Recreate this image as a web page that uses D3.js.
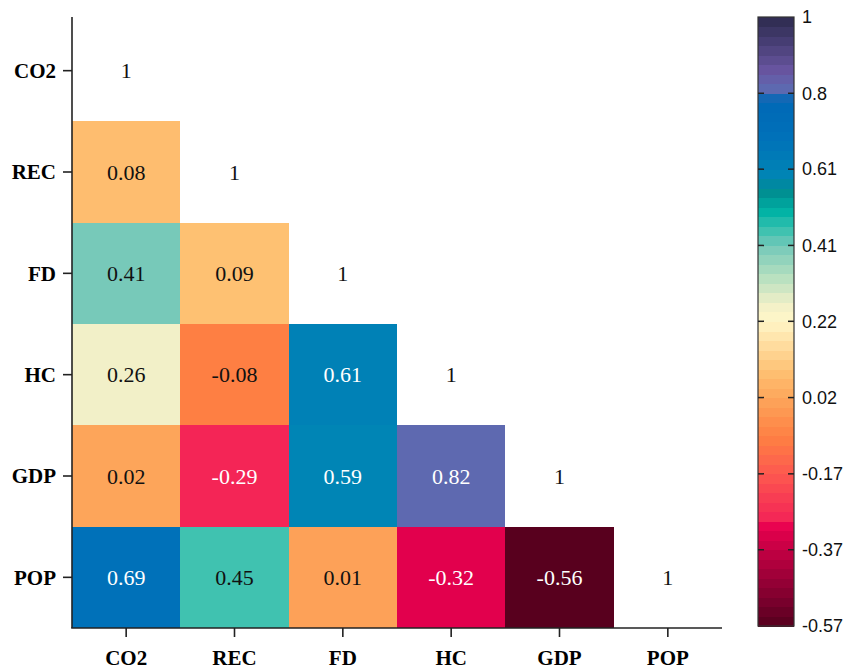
<!DOCTYPE html>
<html>
<head>
<meta charset="utf-8">
<script src="https://cdn.jsdelivr.net/npm/d3@7"></script>
<style>
  html, body { margin: 0; padding: 0; background: #fff; }
  svg { display: block; }
</style>
</head>
<body>
<svg id="chart" width="844" height="671"></svg>
<script>
// Variables of the correlation matrix (rows top to bottom, columns left to right)
const variables = ["CO2", "REC", "FD", "HC", "GDP", "POP"];

// Lower-triangle correlation coefficients, one array per row
const rowCO2 = [1];
const rowREC = [0.08, 1];
const rowFD  = [0.41, 0.09, 1];
const rowHC  = [0.26, -0.08, 0.61, 1];
const rowGDP = [0.02, -0.29, 0.59, 0.82, 1];
const rowPOP = [0.69, 0.45, 0.01, -0.32, -0.56, 1];
const rows = [rowCO2, rowREC, rowFD, rowHC, rowGDP, rowPOP];

// Colour ramp anchors (value -> colour)
const rampValues = [-0.565, -0.5, -0.37, -0.31, -0.29, -0.17, -0.08, 0.02, 0.09, 0.22, 0.26, 0.33, 0.41, 0.45, 0.5, 0.555, 0.59, 0.69, 0.79, 0.8, 0.82, 0.86, 0.93, 1];
const rampColors = ["#55001d", "#7a002d", "#c30043", "#e8004f", "#f42556", "#fd5a4f", "#fe7f43", "#fda55a", "#fec172", "#fff6c8", "#f2f0c8", "#b8e0c0", "#77c9b9", "#40c2b0", "#00b3a5", "#008a8f", "#0085b5", "#0071b9", "#0068b6", "#5868b2", "#5e69b0", "#6a56a2", "#4a4078", "#2d2a4e"];

// Colour bar ticks
const barTickValues = [-0.565, -0.369, -0.174, 0.022, 0.218, 0.413, 0.609, 0.804, 1];
const barTickLabels = ["-0.57", "-0.37", "-0.17", "0.02", "0.22", "0.41", "0.61", "0.8", "1"];
const barSteps = 64;

const svg = d3.select("#chart");

const plot = { left: 72, right: 722, top: 20, bottom: 628, axisTop: 17 };

const x = d3.scaleBand().domain(variables).range([plot.left, plot.right]);
const y = d3.scaleBand().domain(variables).range([plot.top, plot.bottom]);

const color = d3.scaleLinear().domain(rampValues).range(rampColors).interpolate(d3.interpolateRgb).clamp(true);

function luminance(c) {
  const rgb = d3.rgb(c);
  const f = v => { v /= 255; return v <= 0.03928 ? v / 12.92 : Math.pow((v + 0.055) / 1.055, 2.4); };
  return 0.2126 * f(rgb.r) + 0.7152 * f(rgb.g) + 0.0722 * f(rgb.b);
}

// Flatten matrix into cells
const cells = [];
rows.forEach((vals, i) => {
  vals.forEach((v, j) => {
    cells.push({ row: variables[i], col: variables[j], value: v, diag: i === j });
  });
});

const cellG = svg.append("g");

cellG.selectAll("rect")
  .data(cells.filter(d => !d.diag))
  .join("rect")
  .attr("x", d => x(d.col))
  .attr("y", d => y(d.row))
  .attr("width", x.bandwidth())
  .attr("height", y.bandwidth())
  .attr("fill", d => color(d.value))
  .attr("shape-rendering", "crispEdges");

cellG.selectAll("text")
  .data(cells)
  .join("text")
  .attr("x", d => x(d.col) + x.bandwidth() / 2)
  .attr("y", d => y(d.row) + y.bandwidth() / 2)
  .attr("text-anchor", "middle")
  .attr("dominant-baseline", "central")
  .attr("font-family", "'Liberation Serif', 'Times New Roman', serif")
  .attr("font-size", 22)
  .attr("fill", d => (!d.diag && luminance(color(d.value)) < 0.3) ? "#ffffff" : "#111111")
  .text(d => d.value);

// Axes
const axisColor = "#222";

const yAxis = svg.append("g")
  .attr("transform", `translate(${plot.left},0)`)
  .call(d3.axisLeft(y).tickSize(9).tickPadding(7).tickSizeOuter(0));
yAxis.select(".domain").remove();
yAxis.append("line")
  .attr("x1", 0).attr("x2", 0)
  .attr("y1", plot.axisTop).attr("y2", plot.bottom)
  .attr("stroke", axisColor).attr("stroke-width", 1.6);

const xAxis = svg.append("g")
  .attr("transform", `translate(0,${plot.bottom})`)
  .call(d3.axisBottom(x).tickSize(9).tickPadding(13).tickSizeOuter(0));
xAxis.select(".domain").remove();
xAxis.append("line")
  .attr("x1", plot.left - 0.8).attr("x2", plot.right)
  .attr("y1", 0).attr("y2", 0)
  .attr("stroke", axisColor).attr("stroke-width", 1.6);

[xAxis, yAxis].forEach(g => {
  g.selectAll(".tick line").attr("stroke", axisColor).attr("stroke-width", 1.6);
  g.selectAll(".tick text")
    .attr("fill", "#000")
    .attr("font-family", "'Liberation Serif', 'Times New Roman', serif")
    .attr("font-weight", "bold")
    .attr("font-size", 21);
});
yAxis.selectAll(".tick text").attr("dy", "0.35em");

// Colour bar
const bar = { x: 758, width: 36, top: 17, bottom: 626 };
const barScale = d3.scaleLinear().domain([rampValues[0], 1]).range([bar.bottom, bar.top]);
const stepSize = (1 - rampValues[0]) / barSteps;
const steps = d3.range(barSteps).map(k => rampValues[0] + k * stepSize);

const barG = svg.append("g");
barG.selectAll("rect.step")
  .data(steps)
  .join("rect")
  .attr("class", "step")
  .attr("x", bar.x)
  .attr("y", d => barScale(d + stepSize))
  .attr("width", bar.width)
  .attr("height", d => barScale(d) - barScale(d + stepSize) + 0.5)
  .attr("fill", d => color(d + stepSize / 2))
  .attr("shape-rendering", "crispEdges");

barG.append("rect")
  .attr("x", bar.x).attr("y", bar.top)
  .attr("width", bar.width).attr("height", bar.bottom - bar.top)
  .attr("fill", "none").attr("stroke", "#333").attr("stroke-width", 1.2);

const inner = barTickValues.slice(1, -1);
barG.selectAll("line.tl")
  .data(inner)
  .join("line")
  .attr("class", "tl")
  .attr("x1", bar.x).attr("x2", bar.x + 6)
  .attr("y1", d => barScale(d)).attr("y2", d => barScale(d))
  .attr("stroke", "#222").attr("stroke-width", 1.5);
barG.selectAll("line.tr")
  .data(inner)
  .join("line")
  .attr("class", "tr")
  .attr("x1", bar.x + bar.width - 6).attr("x2", bar.x + bar.width)
  .attr("y1", d => barScale(d)).attr("y2", d => barScale(d))
  .attr("stroke", "#222").attr("stroke-width", 1.5);

barG.selectAll("text")
  .data(barTickValues)
  .join("text")
  .attr("x", bar.x + bar.width + 8)
  .attr("y", d => barScale(d))
  .attr("dy", "0.35em")
  .attr("font-family", "'Liberation Sans', Arial, sans-serif")
  .attr("font-size", 18)
  .attr("fill", "#111")
  .text((d, i) => barTickLabels[i]);
</script>
</body>
</html>
